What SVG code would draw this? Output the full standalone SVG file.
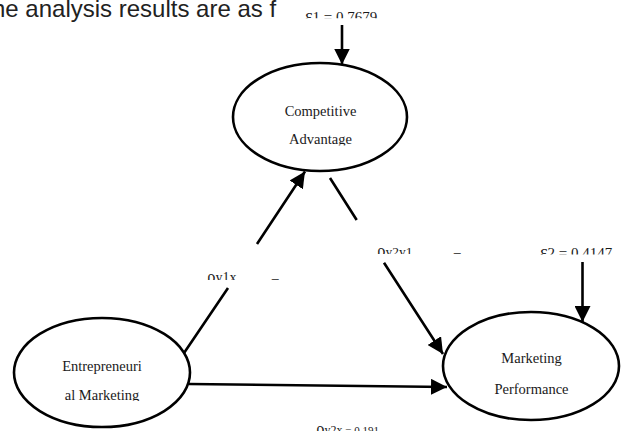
<svg xmlns="http://www.w3.org/2000/svg" width="621" height="431" viewBox="0 0 621 431">
<style>
.node ellipse{fill:#fff;stroke:#000;stroke-width:2.6}
.nt{font-family:"Liberation Serif","Times New Roman",serif;font-size:14.5px;fill:#1a1a1a;text-anchor:middle}
.lb{font-family:"Liberation Serif","Times New Roman",serif;font-size:15px;fill:#1a1a1a}
.conn path{fill:none;stroke:#000;stroke-width:2.6}
.title{font-family:"Liberation Sans",Arial,sans-serif;font-size:24px;fill:#222}
</style>
<defs>
<marker id="ah" markerUnits="userSpaceOnUse" markerWidth="17" markerHeight="16" refX="16" refY="8" orient="auto" viewBox="0 0 17 16">
<path d="M0,0 L16,8 L0,16 z" fill="#000"/>
</marker>
<clipPath id="cE1" clipPathUnits="userSpaceOnUse"><rect x="295" y="0" width="120" height="18.3"/></clipPath>
<clipPath id="cE2" clipPathUnits="userSpaceOnUse"><rect x="530" y="235" width="91" height="19.5"/></clipPath>
<clipPath id="cR21" clipPathUnits="userSpaceOnUse"><rect x="370" y="235" width="110" height="19"/></clipPath>
<clipPath id="cR1" clipPathUnits="userSpaceOnUse"><rect x="195" y="260" width="100" height="20"/></clipPath>
<clipPath id="cCA" clipPathUnits="userSpaceOnUse"><rect x="250" y="125" width="140" height="20.5"/></clipPath>
<clipPath id="cEM" clipPathUnits="userSpaceOnUse"><rect x="40" y="380" width="130" height="21"/></clipPath>
</defs>
<rect width="621" height="431" fill="#fff"/>
<text class="title" x="-8" y="17">he analysis results are as f</text>

<g class="conn">
<path d="M342,25 L342,64.5" marker-end="url(#ah)"/>
<path d="M184,353 L228,288 M257,244 L305,171.5" marker-end="url(#ah)"/>
<path d="M330,178 L356.7,220 M384,262.7 L443,354" marker-end="url(#ah)"/>
<path d="M582.5,262 L582.5,322" marker-end="url(#ah)"/>
<path d="M189,384 L447,387" marker-end="url(#ah)"/>
</g>

<g id="competitive-advantage" class="node">
<ellipse cx="320" cy="117" rx="87" ry="54"/>
<text class="nt" x="320.5" y="115.5">Competitive</text>
<text class="nt" x="320.5" y="144" clip-path="url(#cCA)">Advantage</text>
</g>
<g id="entrepreneurial-marketing" class="node">
<ellipse cx="102" cy="372.5" rx="88" ry="54.5"/>
<text class="nt" x="102" y="371">Entrepreneuri</text>
<text class="nt" x="102" y="399.5" clip-path="url(#cEM)">al Marketing</text>
</g>
<g id="marketing-performance" class="node">
<ellipse cx="531" cy="366" rx="88" ry="54"/>
<text class="nt" x="531.5" y="363">Marketing</text>
<text class="nt" x="531.5" y="394">Performance</text>
</g>

<g id="labels">
<text class="lb" x="305" y="22" clip-path="url(#cE1)"><tspan font-size="18">ε</tspan>1 = 0.7679</text>
<text class="lb" x="540" y="257.5" clip-path="url(#cE2)"><tspan font-size="18">ε</tspan>2 = 0.4147</text>
<g clip-path="url(#cR21)">
<text class="lb" x="377" y="256"><tspan font-size="17">ρ</tspan><tspan font-size="13.5">y2y1</tspan></text>
<text class="lb" x="453" y="260">=</text>
</g>
<g clip-path="url(#cR1)">
<text class="lb" x="207" y="282"><tspan font-size="17">ρ</tspan><tspan font-size="14">y1x</tspan></text>
<text class="lb" x="271" y="286">=</text>
</g>
<text class="lb" x="316" y="434"><tspan font-size="17">ρ</tspan><tspan font-size="12">y2x</tspan><tspan font-size="11"> = 0.191</tspan></text>
</g>
</svg>
